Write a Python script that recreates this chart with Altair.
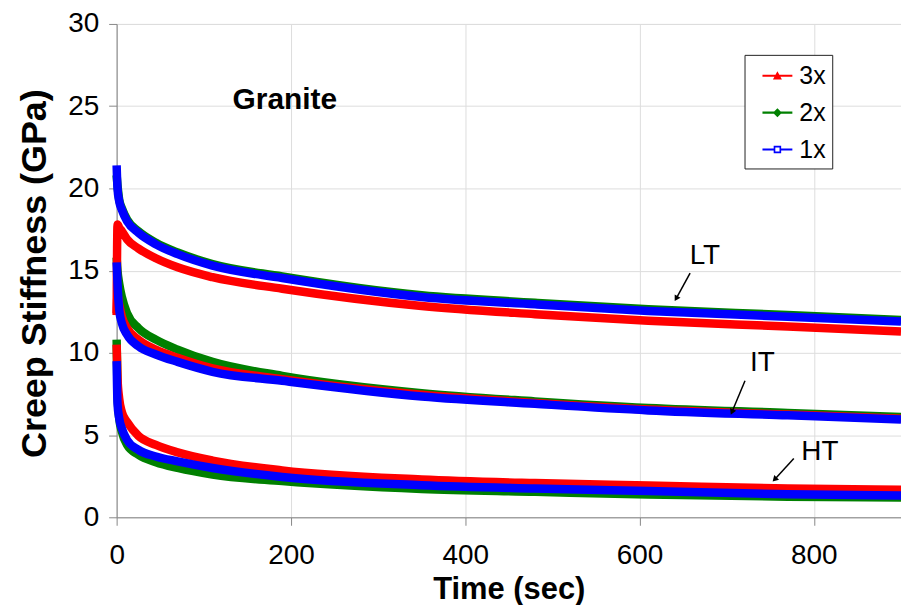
import altair as alt
import pandas as pd

# ---------------- data ----------------
TIME = [0, 1, 3, 6, 12, 25, 45, 70, 110, 190, 350, 480, 610, 770, 900]

LT_3X = [12.4, 17.8, 17.6, 17.4, 16.9, 16.35, 15.75, 15.2, 14.6, 13.9, 12.85, 12.35, 11.95, 11.6, 11.3]
LT_2X = [20.8, 20.2, 19.3, 18.8, 18.1, 17.4, 16.7, 16.1, 15.4, 14.65, 13.5, 13.05, 12.65, 12.3, 12.0]
LT_1X = [21.4, 20.0, 19.2, 18.7, 18.0, 17.3, 16.6, 16.0, 15.3, 14.55, 13.4, 12.95, 12.55, 12.2, 11.9]

IT_3X = [12.3, 13.5, 12.9, 12.2, 11.5, 10.8, 10.2, 9.7, 9.05, 8.4, 7.45, 6.95, 6.55, 6.25, 6.0]
IT_2X = [15.8, 15.0, 14.2, 13.4, 12.4, 11.5, 10.8, 10.2, 9.45, 8.6, 7.55, 7.05, 6.65, 6.35, 6.1]
IT_1X = [15.5, 14.2, 12.6, 11.8, 11.1, 10.4, 9.9, 9.45, 8.85, 8.3, 7.35, 6.9, 6.5, 6.2, 5.95]

HT_3X = [10.5, 8.5, 7.2, 6.4, 5.8, 4.95, 4.4, 3.95, 3.45, 2.85, 2.3, 2.08, 1.94, 1.75, 1.68]
HT_2X = [10.8, 7.6, 6.0, 5.2, 4.4, 3.8, 3.35, 3.0, 2.6, 2.2, 1.72, 1.55, 1.38, 1.25, 1.2]
HT_1X = [9.5, 6.9, 6.0, 5.4, 4.7, 4.1, 3.7, 3.4, 3.0, 2.45, 1.95, 1.75, 1.6, 1.4, 1.33]

RATES = ["3x", "2x", "1x"]
COLORS = ["#ff0000", "#008000", "#0000ff"]

X_TICKS = [0, 200, 400, 600, 800]
Y_TICKS = [0, 5, 10, 15, 20, 25, 30]

# annotation labels and arrows (data units)
ANN_LABEL = ["LT", "IT", "HT"]
ANN_T = [675, 741, 807]
ANN_V = [15.9, 9.4, 3.95]
ARR_T0 = [658, 721, 777]
ARR_V0 = [14.85, 8.3, 3.58]
ARR_T1 = [642, 706, 755]
ARR_V1 = [13.3, 6.4, 2.3]
ARR_ANGLE = [210, 204, 224]

# ---------------- tables ----------------
series = {
    ("LT", "3x"): LT_3X, ("LT", "2x"): LT_2X, ("LT", "1x"): LT_1X,
    ("IT", "3x"): IT_3X, ("IT", "2x"): IT_2X, ("IT", "1x"): IT_1X,
    ("HT", "3x"): HT_3X, ("HT", "2x"): HT_2X, ("HT", "1x"): HT_1X,
}
rows = []
for (temp, rate), vals in series.items():
    for t, v in zip(TIME, vals):
        rows.append({"time": t, "stiff": v, "temp": temp, "rate": rate})
df = pd.DataFrame(rows)

ann = pd.DataFrame({"label": ANN_LABEL, "t": ANN_T, "v": ANN_V})
arr = pd.DataFrame({"t0": ARR_T0, "v0": ARR_V0, "t1": ARR_T1, "v1": ARR_V1, "ang": ARR_ANGLE})
granite = pd.DataFrame({"label": ["Granite"], "t": [133], "v": [25.4]})

FONT = "Liberation Sans, Arial, Helvetica, sans-serif"

# legend symbol paths: line + marker
P3 = "M-1,-0.07H1V0.07H-1Z M-0.3,0.25L0,-0.3L0.3,0.25Z"
P2 = "M-1,-0.07H1V0.07H-1Z M0,-0.3L0.3,0L0,0.3L-0.3,0Z"
P1 = ("M-1,-0.07H-0.25V0.07H-1Z M0.25,-0.07H1V0.07H0.25Z "
      "M-0.25,-0.25H0.25V0.25H-0.25Z M-0.14,-0.14V0.14H0.14V-0.14Z")

x_enc = alt.X("time:Q", scale=alt.Scale(domain=[0, 900], nice=False, zero=False),
              axis=alt.Axis(values=X_TICKS, title="Time (sec)", tickSize=8,
                            labelFontSize=28, labelPadding=16, labelFlush=False,
                            titleFontSize=31, titleFontWeight="bold",
                            titleY=81, titleBaseline="alphabetic"))
y_enc = alt.Y("stiff:Q", scale=alt.Scale(domain=[0, 30], nice=False),
              axis=alt.Axis(values=Y_TICKS, title="Creep Stiffness (GPa)", tickSize=8,
                            labelFontSize=28, labelPadding=10, labelFlush=False,
                            titleFontSize=36, titleFontWeight="bold",
                            titleX=-82, titleY=250, titleAngle=-90,
                            titleAlign="center", titleBaseline="middle"))

color_scale = alt.Scale(domain=RATES, range=COLORS)

lines = []
for r in ["2x", "3x", "1x"]:
    lines.append(
        alt.Chart(df).transform_filter(alt.datum.rate == r)
        .mark_line(strokeWidth=8.5, interpolate="monotone")
        .encode(x=x_enc, y=y_enc,
                color=alt.Color("rate:N", scale=color_scale, legend=None),
                detail="temp:N")
    )

leg = alt.Legend(title=None, orient="none", legendX=630, legendY=31,
                 padding=6, symbolOffset=12, rowPadding=9,
                 labelOffset=7, labelFontSize=25, labelFont=FONT,
                 strokeColor="#222", fillColor="white",
                 symbolSize=900, symbolStrokeWidth=0, symbolOpacity=1,
                 labelExpr="datum.label + '\u00a0\u00a0'")

legend_pts = alt.Chart(df).mark_point(filled=True, opacity=0).encode(
    x="time:Q", y="stiff:Q",
    color=alt.Color("rate:N", scale=color_scale, legend=leg),
    shape=alt.Shape("rate:N", scale=alt.Scale(domain=RATES, range=[P3, P2, P1]), legend=leg),
)

arrows = alt.Chart(arr).mark_rule(color="black", strokeWidth=1.5).encode(
    x="t0:Q", y="v0:Q", x2="t1:Q", y2="v1:Q")
heads = alt.Chart(arr).mark_point(shape="triangle-up", filled=True, color="black",
                                  size=45, opacity=1).encode(
    x="t1:Q", y="v1:Q", angle=alt.Angle("ang:Q", scale=None))

labels = alt.Chart(ann).mark_text(fontSize=28, font=FONT, color="black").encode(
    x="t:Q", y="v:Q", text="label:N")

title_txt = alt.Chart(granite).mark_text(fontSize=30, font=FONT, fontWeight="bold",
                                         align="left", baseline="middle",
                                         color="black").encode(
    x="t:Q", y="v:Q", text="label:N")

chart = alt.layer(legend_pts, *lines, arrows, heads, labels, title_txt).properties(
    width=787, height=495,
    autosize=alt.AutoSizeParams(type="none"),
    padding={"left": 109, "top": 15, "right": 0, "bottom": 87},
).configure_view(stroke=None).configure_axis(
    grid=False, domainColor="#222", domainWidth=1.5, tickColor="#222", tickWidth=1.5,
    labelColor="black", titleColor="black", labelFont=FONT, titleFont=FONT,
).configure(background="white")

chart.save("out.html", embed_options={"renderer": "svg", "actions": False})
